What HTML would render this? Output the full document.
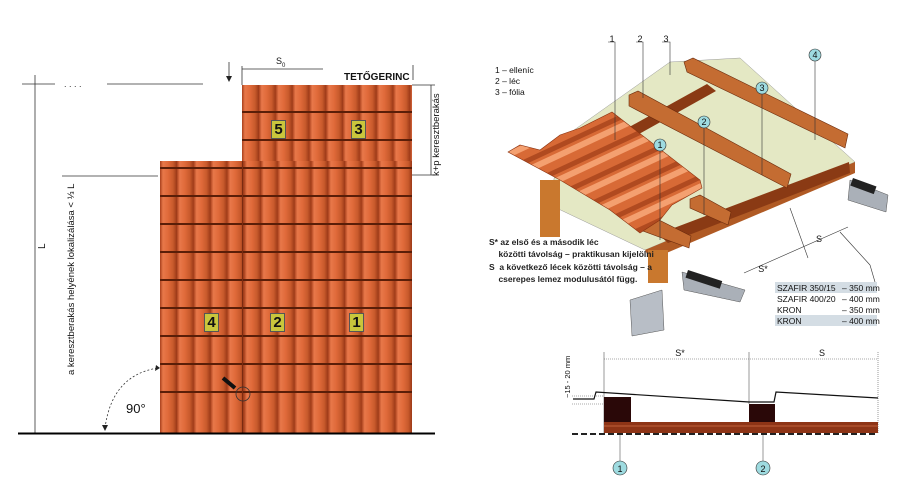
<!DOCTYPE html>
<html><head><meta charset="utf-8"><style>
html,body{margin:0;padding:0;background:#fff;}
body{width:900px;height:504px;position:relative;overflow:hidden;font-family:"Liberation Sans",sans-serif;}
.roof{position:absolute;background:
 repeating-linear-gradient(180deg,rgba(0,0,0,0) 0,rgba(0,0,0,0) 26px,#5a1e08 26px,#5a1e08 28px),
 repeating-linear-gradient(90deg,#a8401c 0,#e8784a 3px,#e06a3a 8px,#c85a2c 13px,#9c3a18 16.8px);}
.badge{position:absolute;width:13px;height:17px;background:#c9c63c;border:1px solid #555;font:bold 15px "Liberation Sans",sans-serif;text-align:center;line-height:17px;color:#111;}
.t{position:absolute;font-size:9px;color:#111;white-space:nowrap;}
.v{position:absolute;font-size:9px;color:#111;white-space:nowrap;transform:rotate(-90deg);transform-origin:left top;}
</style></head><body>
<div class="roof" style="left:242px;top:85px;width:170px;height:76px;"></div>
<div class="roof" style="left:160px;top:161px;width:252px;height:272px;background-position:0 -20px;"></div>
<div style="position:absolute;left:242px;top:161px;width:1px;height:272px;background:#7a2a10"></div>
<div class="badge" style="left:271px;top:120px">5</div>
<div class="badge" style="left:351px;top:120px">3</div>
<div class="badge" style="left:204px;top:313px">4</div>
<div class="badge" style="left:270px;top:313px">2</div>
<div class="badge" style="left:349px;top:313px">1</div>
<svg width="900" height="504" style="position:absolute;left:0;top:0">
 <g stroke="#333" stroke-width="0.8" fill="none">
  <line x1="22" y1="84" x2="55" y2="84"/><line x1="107" y1="84" x2="203" y2="84"/>
  <line x1="35" y1="75" x2="35" y2="433"/>
  <line x1="62" y1="176" x2="158" y2="176"/>
  <line x1="242" y1="69" x2="323" y2="69"/><line x1="242" y1="66" x2="242" y2="85"/>
  <line x1="412" y1="85" x2="435" y2="85"/><line x1="412" y1="175" x2="435" y2="175"/>
  <line x1="431" y1="85" x2="431" y2="175"/>
  <line x1="413" y1="65" x2="413" y2="80"/>
  <line x1="229" y1="62" x2="229" y2="78"/>
  <path d="M105 428 Q112 375 158 368" stroke-dasharray="2,2"/>
 </g>
 <polygon points="226,76 232,76 229,82" fill="#222"/>
 <polygon points="156,365 160,368 155,371" fill="#222"/>
 <polygon points="102,425 108,425 105,431" fill="#222"/>
 <text x="64" y="87" font-size="9" fill="#333">. . . .</text>
 <line x1="18" y1="433.5" x2="435" y2="433.5" stroke="#000" stroke-width="2"/>
 <line x1="223" y1="378" x2="235" y2="388" stroke="#111" stroke-width="4"/>
 <circle cx="243" cy="394" r="7" fill="none" stroke="#333" stroke-width="0.8"/>
 <polygon points="670,62 740,58 855,162 645,250 550,205 560,140" fill="#e4e8c4" stroke="#999" stroke-width="0.5"/>
 <polygon points="855,162 855,173 650,260 645,250" fill="#b05a24"/>
 <polygon points="648,250 668,250 668,283 648,283" fill="#c9782e"/>
 <polygon points="540,180 560,180 560,237 540,237" fill="#c9782e"/>
 <polygon points="707,84 716,91 614,148 604,141" fill="#8a3a14"/>
 <polygon points="849,162 850,173 668,243 658,234" fill="#8a3a14"/>
 <polygon points="684,62 693,58 848,134 845,148 687,72" fill="#c46c32" stroke="#6a2a0c" stroke-width="0.6"/>
 <polygon points="629,95 638,91 791,174 787,188 629,106" fill="#c46c32" stroke="#6a2a0c" stroke-width="0.6"/>
 <polygon points="690,199 700,195 731,212 728,225 690,208" fill="#c46c32" stroke="#6a2a0c" stroke-width="0.6"/>
 <polygon points="643,221 653,217 691,236 689,248 643,231" fill="#c46c32" stroke="#6a2a0c" stroke-width="0.6"/>
 <defs>
  <pattern id="rib" width="22" height="22" patternUnits="userSpaceOnUse" patternTransform="rotate(-25)">
  <rect width="22" height="22" fill="#d86a36"/><rect y="0" width="22" height="6" fill="#f4a070"/><rect y="14" width="22" height="5" fill="#b04a20"/></pattern></defs>
 <polygon points="508,152 520,145 540,150 560,135 580,128 612,112 700,180 702,188 688,196 672,205 660,220 640,233 610,210 560,180" fill="url(#rib)" stroke="#8a3210" stroke-width="0.6"/>
 <polygon points="850,180 888,195 886,212 848,200" fill="#aab0b8" stroke="#555" stroke-width="0.5"/>
 <rect x="853" y="178" width="25" height="8" fill="#222" transform="rotate(20 853 178)"/>
 <polygon points="682,272 745,290 740,302 684,290" fill="#aab0b8" stroke="#555" stroke-width="0.5"/>
 <rect x="688" y="270" width="36" height="8" fill="#222" transform="rotate(18 688 270)"/>
 <polygon points="630,300 662,290 664,330 632,336" fill="#b8bec6" stroke="#555" stroke-width="0.5"/>
 <g stroke="#333" stroke-width="0.6" fill="none">
  <polyline points="608,42 615,42 615,140"/><polyline points="636,42 643,42 643,98"/><polyline points="662,42 670,42 670,75"/>
  <line x1="815" y1="61" x2="815" y2="140"/><line x1="762" y1="94" x2="762" y2="175"/>
  <line x1="704" y1="128" x2="704" y2="215"/><line x1="660" y1="151" x2="660" y2="240"/>
  <line x1="744" y1="273" x2="848" y2="227"/>
  <line x1="840" y1="232" x2="870" y2="265"/><line x1="870" y1="265" x2="875" y2="282"/>
  <line x1="790" y1="208" x2="808" y2="258"/>
 </g>
 <g font-size="9" fill="#111" text-anchor="middle"><text x="612" y="42">1</text><text x="640" y="42">2</text><text x="666" y="42">3</text></g>
 <g fill="#9edbe0" stroke="#333" stroke-width="0.6">
  <circle cx="815" cy="55" r="6"/><circle cx="762" cy="88" r="6"/><circle cx="704" cy="122" r="6"/><circle cx="660" cy="145" r="6"/>
  <circle cx="620" cy="468" r="7"/><circle cx="763" cy="468" r="7"/></g>
 <g font-size="9" fill="#111" text-anchor="middle"><text x="815" y="58">4</text><text x="762" y="91">3</text><text x="704" y="125">2</text><text x="660" y="148">1</text>
  <text x="620" y="472">1</text><text x="763" y="472">2</text>
  <text x="819" y="242">S</text><text x="763" y="272">S*</text><text x="680" y="356">S*</text><text x="822" y="356">S</text></g>
 <rect x="775" y="282" width="102" height="11" fill="#d4dde4"/><rect x="775" y="315" width="102" height="11" fill="#d4dde4"/>
 <g font-size="8.5" fill="#111"><text x="777" y="291">SZAFIR 350/15</text><text x="842" y="291">– 350 mm</text>
 <text x="777" y="302">SZAFIR 400/20</text><text x="842" y="302">– 400 mm</text>
 <text x="777" y="313">KRON</text><text x="842" y="313">– 350 mm</text>
 <text x="777" y="324">KRON</text><text x="842" y="324">– 400 mm</text></g>
 <g stroke="#555" stroke-width="0.6" fill="none">
  <line x1="604" y1="359" x2="878" y2="359" stroke-dasharray="1,1"/>
  <line x1="604" y1="352" x2="604" y2="433"/><line x1="749" y1="352" x2="749" y2="404"/><line x1="878" y1="352" x2="878" y2="433" stroke-dasharray="1,1"/>
  <line x1="572" y1="396" x2="604" y2="396" stroke-dasharray="1,1"/><line x1="572" y1="404" x2="604" y2="404" stroke-dasharray="1,1"/>
  <line x1="620" y1="410" x2="620" y2="461"/><line x1="763" y1="410" x2="763" y2="461"/>
 </g>
 <rect x="604" y="397" width="27" height="25" fill="#2a0808"/>
 <rect x="749" y="404" width="26" height="18" fill="#2a0808"/>
 <rect x="604" y="422" width="274" height="11" fill="#8e3416"/>
 <line x1="604" y1="426" x2="878" y2="426" stroke="#c0603a" stroke-width="1"/>
 <line x1="572" y1="434" x2="878" y2="434" stroke="#222" stroke-width="2" stroke-dasharray="6,3"/>
 <polyline points="573,399 594,399 596,392 749,402 774,402 776,392 878,398" fill="none" stroke="#111" stroke-width="1.2"/>
 <text x="0" y="0" font-size="7.5" fill="#111" transform="translate(570,398) rotate(-90)">~15 - 20 mm</text>
</svg>
<div class="t" style="left:276px;top:56px;font-size:9px">S<sub style="font-size:6px">0</sub></div>
<div class="t" style="left:344px;top:72px;font-size:10px;font-weight:bold">TETŐGERINC</div>
<div class="v" style="left:431px;top:176px;font-size:9.5px">k+p keresztberakás</div>
<div class="v" style="left:66px;top:375px;font-size:9.5px">a keresztberakás helyének lokalizálása &lt; ⅓ L</div>
<div class="v" style="left:37px;top:249px;font-size:10px">L</div>
<div class="t" style="left:126px;top:401px;font-size:13px">90°</div>
<div class="t" style="left:495px;top:65px;line-height:11px;font-size:8.5px">1 – elleníc<br>2 – léc<br>3 – fólia</div>
<div class="t" style="left:489px;top:236px;line-height:12.3px;font-size:8.5px;font-weight:bold;color:#222">S* az első és a második léc<br>&nbsp;&nbsp;&nbsp;&nbsp;közötti távolság – praktikusan kijelölni<br>S&nbsp; a következő lécek közötti távolság – a<br>&nbsp;&nbsp;&nbsp;&nbsp;cserepes lemez modulusától függ.</div>
</body></html>
